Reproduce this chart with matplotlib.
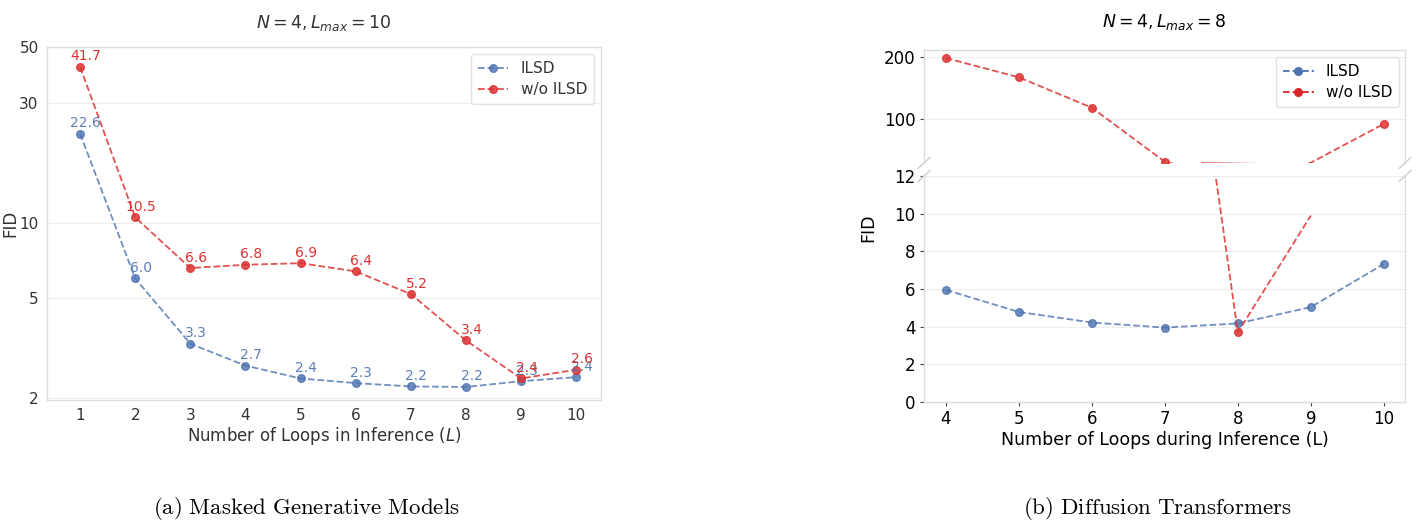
import numpy as np
import matplotlib
matplotlib.use("Agg")
import matplotlib.pyplot as plt
from matplotlib.ticker import FixedLocator, NullLocator, FixedFormatter

# ---------------- data ----------------
loops_a = [1, 2, 3, 4, 5, 6, 7, 8, 9, 10]
ilsd_a = [22.6, 6.0, 3.3, 2.7, 2.4, 2.3, 2.23, 2.22, 2.34, 2.43]
wo_ilsd_a = [41.7, 10.5, 6.6, 6.8, 6.9, 6.4, 5.2, 3.4, 2.4, 2.6]
yticks_a = [2, 5, 10, 30, 50]

loops_b = [4, 5, 6, 7, 8, 9, 10]
ilsd_b = [5.95, 4.78, 4.22, 3.95, 4.17, 5.04, 7.33]
wo_ilsd_b = [198, 167, 118, 31, 3.7, 29.5, 92]
wo_ilsd_b_lower_view = [np.nan, np.nan, np.nan, 31, 3.7, 9.9, np.nan]
yticks_b_top = [100, 200]
yticks_b_bottom = [0, 2, 4, 6, 8, 10, 12]

BLUE = "#4C72B0"
RED = "#DD3333"
W, H = 1427, 530

fig = plt.figure(figsize=(W / 100, H / 100), dpi=100)


def rect(l, r, t, b):
    return [l / W, 1 - b / H, (r - l) / W, (b - t) / H]


def style(ax, ticks_visible, color, size):
    for s in ax.spines.values():
        s.set_color("#dddddd")
        s.set_linewidth(1.0)
    ax.grid(axis="y", color="#eeeeee", linewidth=0.8)
    ax.grid(axis="x", visible=False)
    ax.set_axisbelow(True)
    if ticks_visible:
        ax.tick_params(axis="both", length=3, width=0.8, color="#444444",
                       labelsize=size, labelcolor=color, pad=3)
    else:
        ax.tick_params(axis="both", length=0, labelsize=size, labelcolor=color, pad=6)


# ---------------- panel (a) ----------------
axa = fig.add_axes(rect(47, 601, 47, 400))
style(axa, False, "#333333", 11)
axa.plot(loops_a, ilsd_a, "--o", color=BLUE, alpha=0.8, lw=1.3, ms=5.5, label="ILSD")
axa.plot(loops_a, wo_ilsd_a, "--o", color=RED, alpha=0.85, lw=1.3, ms=5.5, label="w/o ILSD")
for x, y in zip(loops_a, ilsd_a):
    axa.annotate(f"{y:.1f}", (x, y), xytext=(4, 2.5), textcoords="offset points",
                 ha="center", va="bottom", fontsize=10, color=BLUE, alpha=0.9)
for x, y in zip(loops_a, wo_ilsd_a):
    axa.annotate(f"{y:.1f}", (x, y), xytext=(4, 2.5), textcoords="offset points",
                 ha="center", va="bottom", fontsize=10, color=RED)
axa.set_yscale("log")
axa.set_ylim(1.97, 50)
axa.set_xlim(0.4, 10.45)
axa.yaxis.set_major_locator(FixedLocator(yticks_a))
axa.yaxis.set_major_formatter(FixedFormatter([str(t) for t in yticks_a]))
axa.yaxis.set_minor_locator(NullLocator())
axa.set_xticks(loops_a)
axa.set_xlabel("Number of Loops in Inference ($L$)", fontsize=12, color="#333333", labelpad=1)
axa.set_ylabel("FID", fontsize=12, color="#333333")
axa.yaxis.set_label_coords(-(47 - 19) / 554, 0.5)
axa.set_title("$N = 4, L_{max} = 10$", fontsize=12.5, color="#333333", pad=14)
leg = axa.legend(loc="upper right", bbox_to_anchor=(0.987, 0.98), borderaxespad=0,
                 fontsize=11, frameon=True, borderpad=0.45, handlelength=2.0,
                 labelspacing=0.4)
leg.get_frame().set_edgecolor("#dddddd")
for t in leg.get_texts():
    t.set_color("#333333")

# ---------------- panel (b) ----------------
axt = fig.add_axes(rect(924, 1405, 50, 163))
axb = fig.add_axes(rect(924, 1405, 176, 402))
for ax in (axt, axb):
    style(ax, True, "black", 12)
    ax.set_xlim(3.7, 10.29)

axt.plot(loops_b, wo_ilsd_b, "--o", color=RED, alpha=0.85, lw=1.3, ms=5.5,
         markevery=[0, 1, 2, 3, 6])
axt.plot(loops_b, ilsd_b, "--o", color=BLUE, alpha=0.8, lw=1.3, ms=5.5)
axt.set_ylim(29, 211)
axt.set_yticks(yticks_b_top)
axt.spines["bottom"].set_visible(False)
axt.tick_params(axis="x", bottom=False, labelbottom=False)

axb.plot(loops_b, ilsd_b, "--o", color=BLUE, alpha=0.8, lw=1.3, ms=5.5)
axb.plot(loops_b, wo_ilsd_b_lower_view, "--", color=RED, alpha=0.85, lw=1.3)
axb.plot(loops_b[4], wo_ilsd_b[4], "o", color=RED, alpha=0.85, ms=5.5)
axb.set_ylim(0, 12)
axb.set_yticks(yticks_b_bottom)
axb.set_xticks(loops_b)
axb.spines["top"].set_visible(False)

# faded connector in upper panel near the break
xs = np.linspace(7.5, 8.3, 40)
for i in range(len(xs) - 1):
    axt.plot(xs[i:i + 2], [wo_ilsd_b[3] - 1.2] * 2, color=RED,
             alpha=0.8 * (1 - i / (len(xs) - 1)), lw=1.3, solid_capstyle="butt")

# break marks
d = 0.012
kw = dict(color="#cccccc", lw=1.0, clip_on=False)
axt.plot((-d, +d), (-d * 4, +d * 4), transform=axt.transAxes, **kw)
axt.plot((1 - d, 1 + d), (-d * 4, +d * 4), transform=axt.transAxes, **kw)
axb.plot((-d, +d), (1 - d * 2, 1 + d * 2), transform=axb.transAxes, **kw)
axb.plot((1 - d, 1 + d), (1 - d * 2, 1 + d * 2), transform=axb.transAxes, **kw)

# legend in top panel
h_blue, = axt.plot([], [], "--o", color=BLUE, lw=1.3, ms=5.5, label="ILSD")
h_red, = axt.plot([], [], "--o", color="#D62728", lw=1.3, ms=5.5, label="w/o ILSD")
leg2 = axt.legend(handles=[h_blue, h_red], loc="upper right", fontsize=11,
                  frameon=True, borderpad=0.45, handlelength=2.0, labelspacing=0.4,
                  bbox_to_anchor=(0.9875, 0.938), borderaxespad=0)
leg2.get_frame().set_edgecolor("#dddddd")

axb.set_xlabel("Number of Loops during Inference (L)", fontsize=12.5, labelpad=2)
fig.text(868 / W, 1 - 228 / H, "FID", rotation=90, fontsize=12.5, ha="center", va="center")
fig.text(1164 / W, 1 - 22 / H, "$N = 4, L_{max} = 8$", fontsize=12.5, ha="center", va="center")

# captions
fig.text(306 / W, 1 - 508 / H, r"$\mathrm{(a)\ Masked\ Generative\ Models}$",
         math_fontfamily="cm", fontsize=16.5, ha="center", va="center")
fig.text(1157 / W, 1 - 508 / H, r"$\mathrm{(b)\ Diffusion\ Transformers}$",
         math_fontfamily="cm", fontsize=16.5, ha="center", va="center")

fig.savefig("out.png", dpi=100)
